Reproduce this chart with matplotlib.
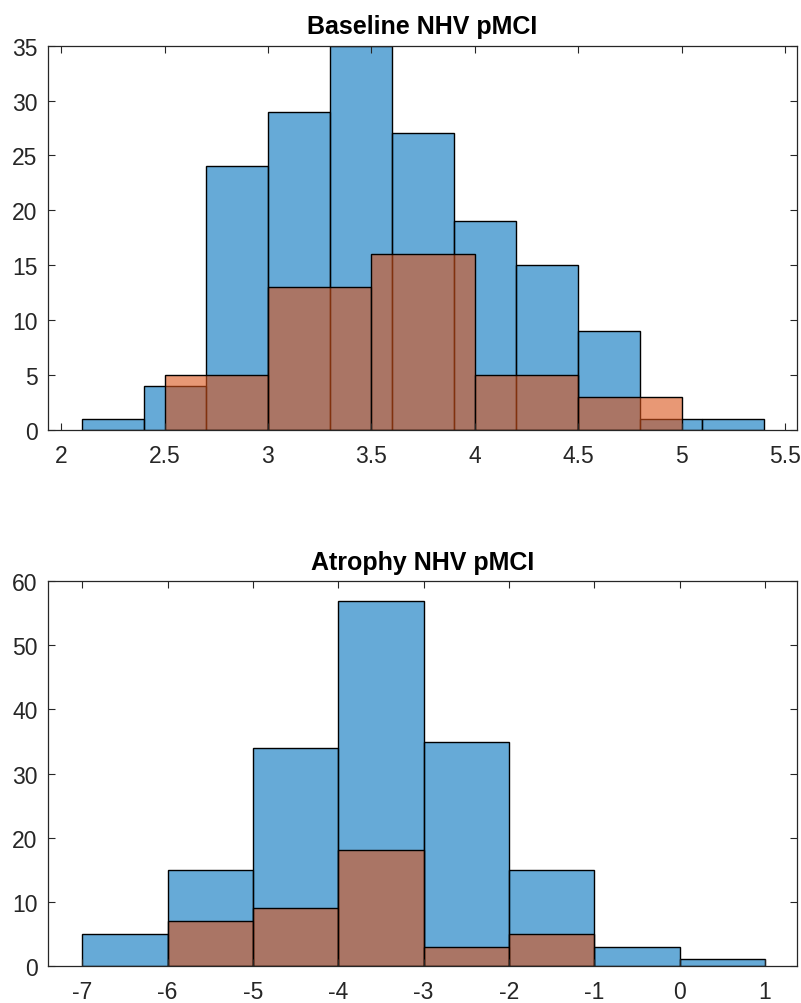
import numpy as np
import matplotlib.pyplot as plt

plt.rcParams['font.family'] = ['Liberation Sans', 'DejaVu Sans']

# histogram data (bin edges, counts)
base_edges_all = [2.1, 2.4, 2.7, 3.0, 3.3, 3.6, 3.9, 4.2, 4.5, 4.8, 5.1, 5.4]
base_counts_all = [1, 4, 24, 29, 35, 27, 19, 15, 9, 1, 1]
base_edges_pmci = [2.5, 3.0, 3.5, 4.0, 4.5, 5.0]
base_counts_pmci = [5, 13, 16, 5, 3]

atr_edges_all = [-7, -6, -5, -4, -3, -2, -1, 0, 1]
atr_counts_all = [5, 15, 34, 57, 35, 15, 3, 1]
atr_edges_pmci = [-6, -5, -4, -3, -2, -1]
atr_counts_pmci = [7, 9, 18, 3, 5]

blue = (0.0, 0.447, 0.741, 0.6)
orange = (0.85, 0.325, 0.098, 0.6)
axcol = '#262626'


def draw_hist(ax, edges, counts, fc):
    edges = np.asarray(edges, dtype=float)
    ax.bar(edges[:-1], counts, width=np.diff(edges), align='edge',
           facecolor=fc, edgecolor='black', linewidth=1.0)


def style(ax, title, xlim, ylim, xticks, yticks):
    ax.set_xlim(*xlim)
    ax.set_ylim(*ylim)
    ax.set_xticks(xticks)
    ax.set_yticks(yticks)
    ax.set_xticklabels([f'{t:g}' for t in xticks])
    ax.tick_params(direction='in', top=True, right=True, length=5,
                   width=0.8, color=axcol, labelcolor=axcol, labelsize=16.5)
    ax.tick_params(axis='x', pad=10.5)
    ax.tick_params(axis='y', pad=7.5)
    for s in ax.spines.values():
        s.set_color(axcol)
        s.set_linewidth(0.9)
    ax.set_title(title, fontsize=18, fontweight='bold', pad=9)


fig = plt.figure(figsize=(8.01, 10.04), dpi=100)
ax1 = fig.add_axes([0.060, 0.571, 0.935, 0.3825])
ax2 = fig.add_axes([0.060, 0.037, 0.935, 0.383])

draw_hist(ax1, base_edges_all, base_counts_all, blue)
draw_hist(ax1, base_edges_pmci, base_counts_pmci, orange)
style(ax1, 'Baseline NHV pMCI', (1.937, 5.558), (0, 35),
      [2, 2.5, 3, 3.5, 4, 4.5, 5, 5.5], list(range(0, 36, 5)))

draw_hist(ax2, atr_edges_all, atr_counts_all, blue)
draw_hist(ax2, atr_edges_pmci, atr_counts_pmci, orange)
style(ax2, 'Atrophy NHV pMCI', (-7.4, 1.375), (0, 60),
      list(range(-7, 2)), list(range(0, 61, 10)))

fig.savefig('out.png', dpi=100)
